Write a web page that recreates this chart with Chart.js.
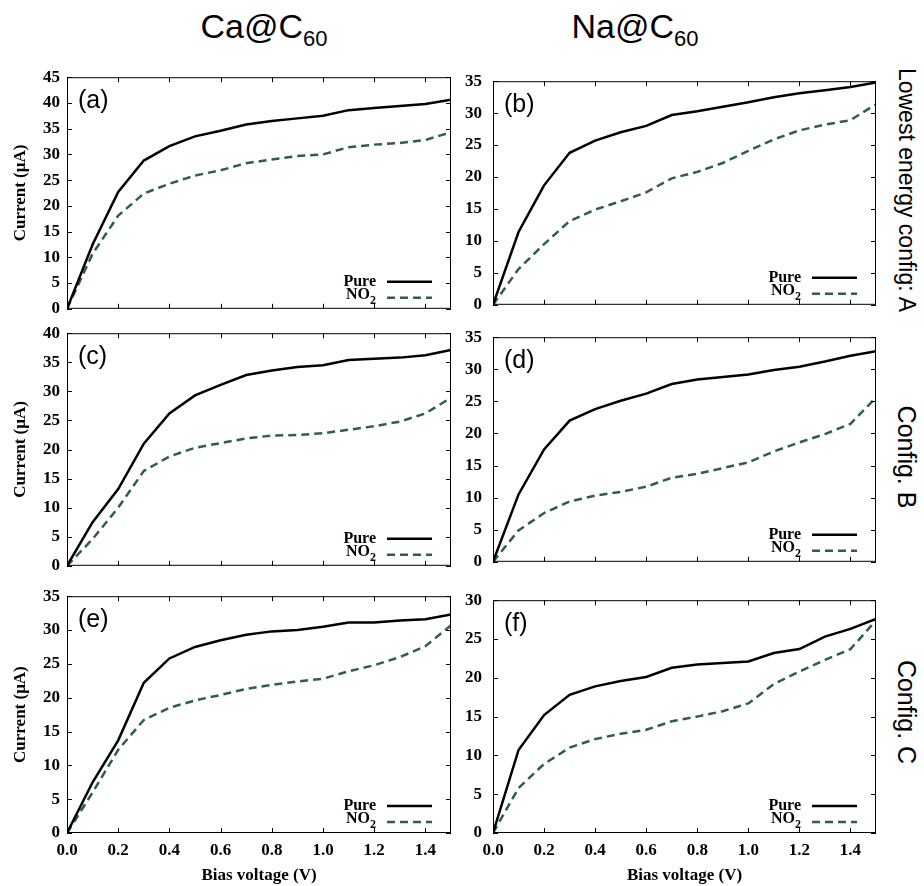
<!DOCTYPE html>
<html>
<head>
<meta charset="utf-8">
<script src="https://cdn.jsdelivr.net/npm/chart.js@4.4.1/dist/chart.umd.min.js"></script>
<style>
  body { margin: 0; background: #fff; width: 924px; height: 886px; position: relative; overflow: hidden; }
  canvas { position: absolute; }
  .title { position: absolute; top: 6px; font-family: "Liberation Sans", Arial, sans-serif; font-size: 34px; line-height: 40px; white-space: nowrap; transform: translateX(-50%); }
  .title sub { font-size: 22px; vertical-align: -8px; line-height: 0; }
  .side { position: absolute; font-family: "Liberation Sans", Arial, sans-serif; font-size: 25px; white-space: nowrap; transform: translate(-50%, -50%) rotate(90deg); }
</style>
</head>
<body>
<div class="title" style="left:264px">Ca@C<sub>60</sub></div>
<div class="title" style="left:635px">Na@C<sub>60</sub></div>
<div class="side" style="left:906px; top:190px; font-size:23px">Lowest energy config: A</div>
<div class="side" style="left:906px; top:457px">Config. B</div>
<div class="side" style="left:906px; top:712px">Config. C</div>

<canvas id="pa" width="460" height="266" style="left:0; top:60px"></canvas>
<canvas id="pb" width="432" height="266" style="left:460px; top:60px"></canvas>
<canvas id="pc" width="460" height="267" style="left:0; top:316px"></canvas>
<canvas id="pd" width="432" height="267" style="left:460px; top:316px"></canvas>
<canvas id="pe" width="460" height="307" style="left:0; top:579px"></canvas>
<canvas id="pf" width="432" height="307" style="left:460px; top:579px"></canvas>

<script>
// bias voltage (V)
const voltage = [0.0, 0.1, 0.2, 0.3, 0.4, 0.5, 0.6, 0.7, 0.8, 0.9, 1.0, 1.1, 1.2, 1.3, 1.4, 1.5];

// current (uA) - Ca@C60
const caPureA = [0, 12.5, 22.7, 28.8, 31.6, 33.5, 34.6, 35.8, 36.5, 37.0, 37.5, 38.6, 39.0, 39.4, 39.8, 40.6];
const caNo2A  = [0, 10.7, 18.1, 22.4, 24.3, 25.9, 26.9, 28.3, 29.0, 29.7, 30.0, 31.4, 31.9, 32.2, 32.8, 34.3];
const caPureB = [0, 7.5, 13.2, 21.0, 26.2, 29.3, 31.1, 32.8, 33.6, 34.2, 34.5, 35.4, 35.6, 35.8, 36.2, 37.1];
const caNo2B  = [0, 4.6, 10.0, 16.3, 18.8, 20.3, 21.1, 21.9, 22.4, 22.5, 22.8, 23.4, 24.0, 24.8, 26.2, 28.9];
const caPureC = [0, 7.5, 13.7, 22.2, 25.8, 27.5, 28.5, 29.3, 29.8, 30.0, 30.5, 31.1, 31.1, 31.4, 31.6, 32.3];
const caNo2C  = [0, 6.0, 12.3, 16.7, 18.5, 19.6, 20.4, 21.3, 21.9, 22.4, 22.8, 23.9, 24.8, 26.0, 27.6, 30.7];

// current (uA) - Na@C60
const naPureA = [0, 11.4, 18.7, 23.8, 25.7, 27.0, 28.0, 29.7, 30.3, 31.0, 31.7, 32.5, 33.1, 33.6, 34.1, 34.8];
const naNo2A  = [0, 5.6, 9.5, 13.1, 14.9, 16.2, 17.6, 19.8, 20.8, 22.2, 24.1, 25.9, 27.3, 28.2, 28.9, 31.4];
const naPureB = [0, 10.5, 17.5, 22.0, 23.8, 25.1, 26.2, 27.7, 28.4, 28.8, 29.2, 29.9, 30.4, 31.2, 32.1, 32.8];
const naNo2B  = [0, 4.9, 7.6, 9.4, 10.3, 10.9, 11.7, 13.1, 13.7, 14.6, 15.5, 17.2, 18.6, 19.9, 21.5, 25.6];
const naPureC = [0, 10.7, 15.2, 17.8, 18.9, 19.6, 20.1, 21.3, 21.7, 21.9, 22.1, 23.2, 23.7, 25.3, 26.3, 27.6];
const naNo2C  = [0, 5.8, 8.9, 11.0, 12.1, 12.8, 13.3, 14.4, 15.0, 15.7, 16.7, 19.2, 20.8, 22.3, 23.7, 27.4];

// y axis upper limits per panel
const yMaxA = [45, 35];
const yMaxB = [40, 35];
const yMaxC = [35, 30];

const seriesNames = ['Pure', 'NO2'];
const no2Color = '#2f5b58';
const serif = '"Liberation Serif", "Times New Roman", serif';
const tickFont = { family: serif, weight: 'bold', size: 17 };

const pts = arr => arr.map((v, i) => ({ x: voltage[i], y: v }));

// box, inward ticks, panel letter and key
const framePlugin = {
  id: 'frame',
  afterDatasetsDraw(chart, args, opts) {
    const { ctx, chartArea: a, scales: { x, y } } = chart;
    ctx.save();
    ctx.strokeStyle = '#000';
    ctx.lineWidth = 1;
    ctx.strokeRect(a.left + 0.5, a.top + 0.5, a.right - a.left - 1, a.bottom - a.top - 1);
    ctx.beginPath();
    const tl = 5;
    x.ticks.forEach(t => {
      const px = Math.round(x.getPixelForValue(t.value)) + 0.5;
      ctx.moveTo(px, a.bottom); ctx.lineTo(px, a.bottom - tl);
      ctx.moveTo(px, a.top); ctx.lineTo(px, a.top + tl);
    });
    y.ticks.forEach(t => {
      const py = Math.round(y.getPixelForValue(t.value)) + 0.5;
      ctx.moveTo(a.left, py); ctx.lineTo(a.left + tl, py);
      ctx.moveTo(a.right, py); ctx.lineTo(a.right - tl, py);
    });
    ctx.stroke();

    ctx.fillStyle = '#000';
    ctx.font = '25px "Liberation Sans", Arial, sans-serif';
    ctx.textAlign = 'left';
    ctx.textBaseline = 'middle';
    ctx.fillText(opts.label, a.left + 11, a.top + 24);

    // key
    const ds = chart.data.datasets;
    const textX = a.right - 75;
    const rows = [a.bottom - 27, a.bottom - 11];
    ctx.font = 'bold 16px ' + serif;
    ctx.textAlign = 'right';
    ctx.fillText(ds[0].label, textX, rows[0]);
    ctx.font = 'bold 12px ' + serif;
    const w2 = ctx.measureText('2').width;
    ctx.fillText('2', textX, rows[1] + 3);
    ctx.font = 'bold 16px ' + serif;
    ctx.fillText('NO', textX - w2, rows[1] - 3);
    ds.forEach((d, i) => {
      ctx.beginPath();
      ctx.lineWidth = d.borderWidth;
      ctx.strokeStyle = d.borderColor;
      ctx.setLineDash(d.borderDash || []);
      ctx.moveTo(a.right - 64, rows[i]);
      ctx.lineTo(a.right - 19, rows[i]);
      ctx.stroke();
    });
    ctx.restore();
  }
};

const panels = [
  { id: 'pa', label: '(a)', pure: caPureA, no2: caNo2A, yMax: yMaxA[0], left: true, bottom: false },
  { id: 'pb', label: '(b)', pure: naPureA, no2: naNo2A, yMax: yMaxA[1], left: false, bottom: false },
  { id: 'pc', label: '(c)', pure: caPureB, no2: caNo2B, yMax: yMaxB[0], left: true, bottom: false },
  { id: 'pd', label: '(d)', pure: naPureB, no2: naNo2B, yMax: yMaxB[1], left: false, bottom: false },
  { id: 'pe', label: '(e)', pure: caPureC, no2: caNo2C, yMax: yMaxC[0], left: true, bottom: true },
  { id: 'pf', label: '(f)', pure: naPureC, no2: naNo2C, yMax: yMaxC[1], left: false, bottom: true }
];

panels.forEach(p => {
  new Chart(document.getElementById(p.id), {
    type: 'line',
    data: {
      datasets: [{
        label: seriesNames[0],
        data: pts(p.pure),
        borderColor: '#000',
        borderWidth: 2.5,
        pointRadius: 0,
        tension: 0
      }, {
        label: seriesNames[1],
        data: pts(p.no2),
        borderColor: no2Color,
        borderWidth: 2.5,
        borderDash: [8, 5],
        pointRadius: 0,
        tension: 0
      }]
    },
    options: {
      responsive: false,
      animation: false,
      layout: { padding: { top: 12, left: 0, bottom: 0, right: p.left ? 9 : 16 } },
      plugins: {
        legend: { display: false },
        tooltip: { enabled: false },
        frame: { label: p.label }
      },
      scales: {
        x: {
          type: 'linear',
          min: 0,
          max: 1.5,
          afterFit: s => { s.height = p.bottom ? 53 : 12; },
          grid: { display: false, drawTicks: false },
          border: { display: false },
          ticks: {
            display: p.bottom,
            stepSize: 0.2,
            includeBounds: false,
            autoSkip: false,
            maxRotation: 0,
            padding: 7,
            color: '#000',
            font: tickFont,
            callback: v => v.toFixed(1)
          },
          title: {
            display: p.bottom,
            text: 'Bias voltage (V)',
            color: '#000',
            font: tickFont,
            padding: { top: 0, bottom: 0 }
          }
        },
        y: {
          min: 0,
          max: p.yMax,
          afterFit: s => { s.width = p.left ? 67 : 33; },
          grid: { display: false, drawTicks: false },
          border: { display: false },
          ticks: {
            stepSize: 5,
            autoSkip: false,
            padding: p.left ? 7 : 11,
            color: '#000',
            font: tickFont
          },
          title: {
            display: p.left,
            text: 'Current (μA)',
            color: '#000',
            font: tickFont,
            padding: { top: 10, bottom: 0 }
          }
        }
      }
    },
    plugins: [framePlugin]
  });
});
</script>
</body>
</html>
